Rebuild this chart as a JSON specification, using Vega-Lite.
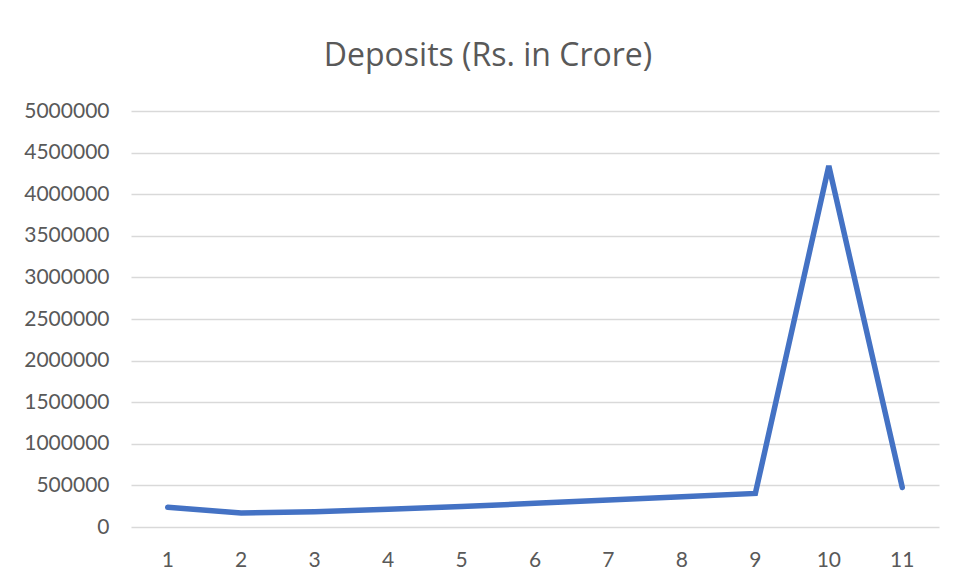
{
  "$schema": "https://vega.github.io/schema/vega-lite/v6.json",
  "width": 808,
  "height": 416,
  "autosize": {"type": "none"},
  "padding": {"left": 131, "top": 111, "right": 20, "bottom": 56},
  "background": "white",
  "title": {
    "text": "Deposits (Rs. in Crore)",
    "font": "Open Sans",
    "fontSize": 32,
    "fontWeight": "normal",
    "color": "#595959",
    "anchor": "middle",
    "dx": -47,
    "offset": 27
  },
  "data": {
    "values": [
      {"n": 1, "deposits": 237000},
      {"n": 2, "deposits": 168000},
      {"n": 3, "deposits": 184000},
      {"n": 4, "deposits": 213000},
      {"n": 5, "deposits": 246000},
      {"n": 6, "deposits": 285000},
      {"n": 7, "deposits": 325000},
      {"n": 8, "deposits": 364000},
      {"n": 9, "deposits": 403000},
      {"n": 10, "deposits": 4340000},
      {"n": 11, "deposits": 475000}
    ]
  },
  "mark": {"type": "line", "color": "#4472C4", "strokeWidth": 5.5, "strokeCap": "round", "strokeJoin": "miter"},
  "encoding": {
    "x": {
      "field": "n",
      "type": "ordinal",
      "title": null,
      "scale": {"type": "band", "paddingInner": 0, "paddingOuter": 0},
      "axis": {
        "labelAngle": 0,
        "labelFont": "Lato",
        "labelFontSize": 21,
        "labelColor": "#595959",
        "labelPadding": 22,
        "ticks": false,
        "domain": false,
        "grid": false
      }
    },
    "y": {
      "field": "deposits",
      "type": "quantitative",
      "title": null,
      "scale": {"domain": [0, 5000000], "nice": false},
      "axis": {
        "values": [0, 500000, 1000000, 1500000, 2000000, 2500000, 3000000, 3500000, 4000000, 4500000, 5000000],
        "format": "d",
        "labelFont": "Lato",
        "labelFontSize": 21,
        "labelColor": "#595959",
        "labelPadding": 22,
        "ticks": false,
        "domain": false,
        "grid": true,
        "gridColor": "#d9d9d9",
        "gridWidth": 1.5
      }
    }
  },
  "config": {"view": {"stroke": null}}
}
